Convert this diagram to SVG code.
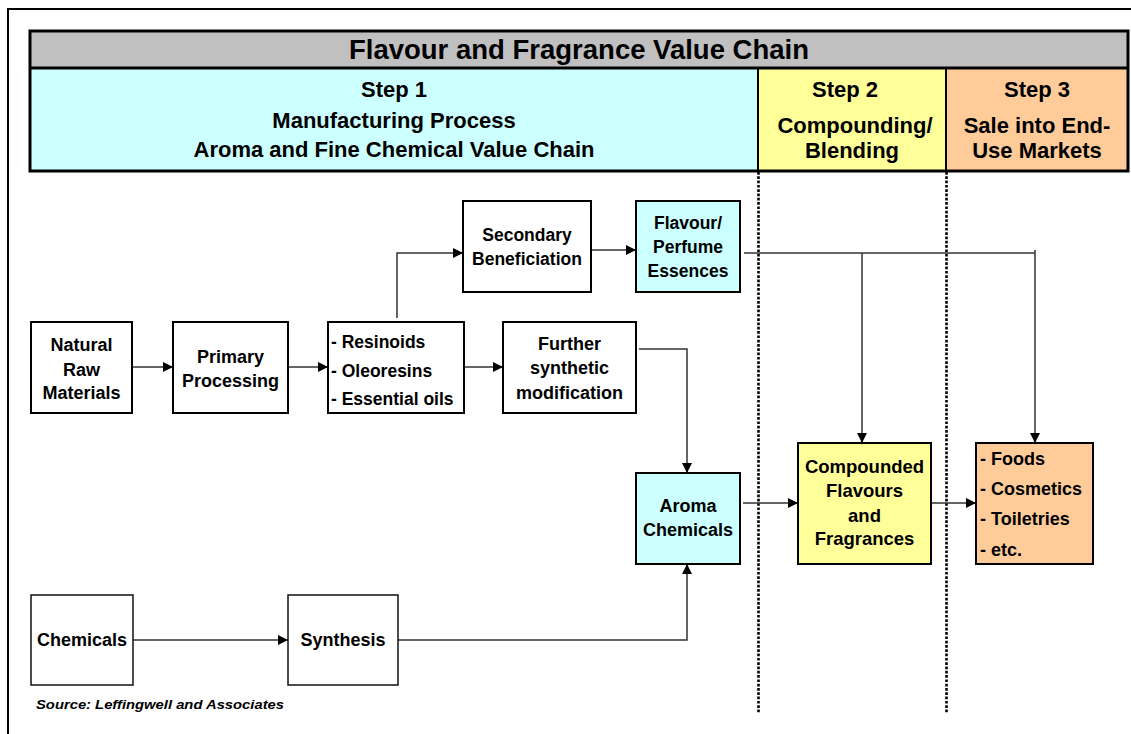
<svg xmlns="http://www.w3.org/2000/svg" width="1131" height="734" viewBox="0 0 1131 734">
<style>
text{font-family:"Liberation Sans",Arial,sans-serif;font-weight:bold;fill:#000}
.c{text-anchor:middle}
.hd{font-size:22px}
.n{font-size:18px}
.box{stroke:#000;stroke-width:2}
.thin{stroke:#111;stroke-width:1.5;fill:#fff}
.conn{fill:none;stroke:#333;stroke-width:1.5}
.dot{stroke:#000;stroke-width:2.6;stroke-dasharray:2.7 1.6}
</style>
<defs>
<marker id="arr" markerUnits="userSpaceOnUse" markerWidth="11" markerHeight="11" refX="10" refY="5" orient="auto">
<path d="M0,0 L10,5 L0,10 z" fill="#000"/>
</marker>
</defs>
<rect width="1131" height="734" fill="#fff"/>
<!-- outer frame -->
<path d="M8,734 V9 H1131" fill="none" stroke="#000" stroke-width="2"/>

<!-- header -->
<g id="header">
<rect x="30" y="31" width="1098" height="37" fill="#C0C0C0"/>
<rect x="30" y="68" width="728" height="103" fill="#CCFFFF"/>
<rect x="758" y="68" width="188" height="103" fill="#FFFF99"/>
<rect x="946" y="68" width="182" height="103" fill="#FFCC99"/>
<rect x="30" y="31" width="1098" height="140" fill="none" stroke="#000" stroke-width="3"/>
<line x1="30" y1="68" x2="1128" y2="68" stroke="#000" stroke-width="3"/>
<line x1="758" y1="68" x2="758" y2="171" stroke="#000" stroke-width="2"/>
<line x1="946" y1="68" x2="946" y2="171" stroke="#000" stroke-width="2"/>
<text class="c" x="579" y="59" font-size="27.5">Flavour and Fragrance Value Chain</text>
<text class="c hd" x="394" y="97">Step 1</text>
<text class="c hd" x="394" y="128">Manufacturing Process</text>
<text class="c hd" x="394" y="157">Aroma and Fine Chemical Value Chain</text>
<text class="c hd" x="845" y="97">Step 2</text>
<text class="c hd" x="855" y="133">Compounding/</text>
<text class="c hd" x="852" y="158">Blending</text>
<text class="c hd" x="1037" y="97">Step 3</text>
<text class="c hd" x="1037" y="133">Sale into End-</text>
<text class="c hd" x="1037" y="158">Use Markets</text>
</g>

<!-- dotted separators -->
<g id="separators">
<line class="dot" x1="758.5" y1="172" x2="758.5" y2="713"/>
<line class="dot" x1="946.5" y1="172" x2="946.5" y2="713"/>
</g>

<!-- connectors -->
<g id="connectors" class="conn">
<path d="M132,367 H173" marker-end="url(#arr)"/>
<path d="M288,367 H328" marker-end="url(#arr)"/>
<path d="M464,367 H503" marker-end="url(#arr)"/>
<path d="M397,318 V253 H463" marker-end="url(#arr)"/>
<path d="M591,250 H636" marker-end="url(#arr)"/>
<path d="M744,253 H1035"/>
<path d="M862,253 V443" marker-end="url(#arr)"/>
<path d="M1035,250 V443" marker-end="url(#arr)"/>
<path d="M639,349 H687 V473" marker-end="url(#arr)"/>
<path d="M397,640 H687 V564" marker-end="url(#arr)"/>
<path d="M133,640 H288" marker-end="url(#arr)"/>
<path d="M743,503 H798" marker-end="url(#arr)"/>
<path d="M931,503 H976" marker-end="url(#arr)"/>
</g>

<g id="natural">
<rect class="box" x="31" y="322" width="101" height="91" fill="#fff"/>
<text class="c n" x="81.5" y="351">Natural</text>
<text class="c n" x="81.5" y="376">Raw</text>
<text class="c n" x="81.5" y="399">Materials</text>
</g>
<g id="primary">
<rect class="box" x="173" y="322" width="115" height="91" fill="#fff"/>
<text class="c n" x="230.5" y="363">Primary</text>
<text class="c n" x="230.5" y="387">Processing</text>
</g>
<g id="resinoids">
<rect class="box" x="328" y="322" width="136" height="91" fill="#fff"/>
<text x="331" y="348" font-size="17.5">- Resinoids</text>
<text x="331" y="377" font-size="17.5">- Oleoresins</text>
<text x="331" y="405" font-size="17.5">- Essential oils</text>
</g>
<g id="further">
<rect class="box" x="503" y="322" width="133" height="91" fill="#fff"/>
<text class="c n" x="569.5" y="350">Further</text>
<text class="c n" x="569.5" y="374">synthetic</text>
<text class="c n" x="569.5" y="399">modification</text>
</g>
<g id="secondary">
<rect class="box" x="463" y="201" width="128" height="91" fill="#fff"/>
<text class="c" x="527" y="241" font-size="17.5">Secondary</text>
<text class="c" x="527" y="265" font-size="17.5">Beneficiation</text>
</g>
<g id="essences">
<rect class="box" x="636" y="201" width="104" height="91" fill="#CCFFFF"/>
<text class="c" x="688" y="229" font-size="17.5">Flavour/</text>
<text class="c" x="688" y="253" font-size="17.5">Perfume</text>
<text class="c" x="688" y="277" font-size="17.5">Essences</text>
</g>
<g id="aroma">
<rect class="box" x="636" y="473" width="104" height="91" fill="#CCFFFF"/>
<text class="c n" x="688" y="512">Aroma</text>
<text class="c n" x="688" y="536">Chemicals</text>
</g>
<g id="compounded">
<rect class="box" x="798" y="443" width="133" height="121" fill="#FFFF99"/>
<text class="c" x="864.5" y="473" font-size="18.5">Compounded</text>
<text class="c" x="864.5" y="497" font-size="18.5">Flavours</text>
<text class="c" x="864.5" y="522" font-size="18.5">and</text>
<text class="c" x="864.5" y="545" font-size="18.5">Fragrances</text>
</g>
<g id="markets">
<rect class="box" x="976" y="443" width="117" height="121" fill="#FFCC99"/>
<text class="n" x="980" y="465">- Foods</text>
<text class="n" x="980" y="495">- Cosmetics</text>
<text class="n" x="980" y="525">- Toiletries</text>
<text class="n" x="980" y="556" font-size="16">- etc.</text>
</g>
<g id="chemicals">
<rect class="thin" x="31" y="595" width="102" height="90"/>
<text class="c n" x="82" y="646">Chemicals</text>
</g>
<g id="synthesis">
<rect class="thin" x="288" y="595" width="110" height="90"/>
<text class="c n" x="343" y="646">Synthesis</text>
</g>
<text x="36" y="709" font-size="13" font-style="italic" textLength="248" lengthAdjust="spacingAndGlyphs">Source: Leffingwell and Associates</text>
</svg>
